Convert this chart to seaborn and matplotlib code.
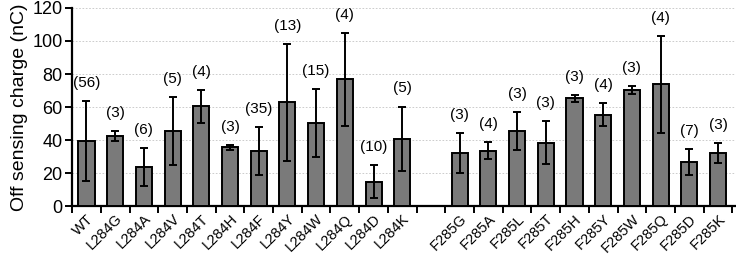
import numpy as np
import pandas as pd
import matplotlib
matplotlib.use("Agg")
import matplotlib.pyplot as plt
import seaborn as sns

# values
mutants = ["WT", "L284G", "L284A", "L284V", "L284T", "L284H", "L284F", "L284Y",
           "L284W", "L284Q", "L284D", "L284K",
           "F285G", "F285A", "F285L", "F285T", "F285H", "F285Y", "F285W",
           "F285Q", "F285D", "F285K"]
means = [39.5, 42.2, 23.5, 45.5, 60.5, 35.5, 33.2, 62.8, 50.2, 76.7, 14.8, 40.8,
         32.0, 33.6, 45.2, 38.3, 65.2, 55.3, 70.4, 73.8, 26.8, 32.3]
sds = [24.0, 3.0, 11.5, 20.5, 10.0, 1.3, 14.5, 35.4, 20.5, 28.0, 10.0, 19.5,
       12.0, 5.2, 11.5, 13.0, 2.3, 6.9, 2.2, 29.3, 7.9, 6.0]
n_cells = [56, 3, 6, 5, 4, 3, 35, 13, 15, 4, 10, 5,
           3, 4, 3, 3, 3, 4, 3, 4, 7, 3]

df = pd.DataFrame({"mutant": mutants, "charge": means, "sd": sds, "n": n_cells})
order = mutants[:12] + [" "] + mutants[12:]

sns.set_style("white")
plt.rcParams["font.family"] = ["Liberation Sans", "DejaVu Sans"]
plt.rcParams["text.color"] = "black"
plt.rcParams["axes.labelcolor"] = "black"
plt.rcParams["xtick.color"] = "black"
plt.rcParams["ytick.color"] = "black"

fig = plt.figure(figsize=(7.36, 2.57), dpi=100)
ax = fig.add_axes([0.098, 0.198, 0.901, 0.771])

sns.barplot(data=df, x="mutant", y="charge", order=order, errorbar=None,
            color="#7a7a7a", saturation=1, width=0.56,
            edgecolor="black", linewidth=1.4, ax=ax, zorder=3)

xpos = [order.index(m) for m in mutants]
ax.errorbar(xpos, means, yerr=sds, fmt="none", ecolor="black",
            elinewidth=1.4, capsize=3.2, capthick=1.4, zorder=4)

for x, m, s, n in zip(xpos, means, sds, n_cells):
    ax.annotate(f"({n})", (x, m + s), xytext=(0, 13), textcoords="offset points",
                ha="center", va="center", fontsize=11, annotation_clip=False)

ax.set_ylim(0, 120)
ax.set_xlim(-0.5, 22.6)
ax.set_yticks(range(0, 121, 20))
ax.yaxis.grid(True, color="#c4c4c4", linestyle=(0, (2, 2)), linewidth=0.6)
ax.set_axisbelow(True)

ax.set_xticks(range(len(order)))
ax.set_xticklabels(order, rotation=45, ha="right", rotation_mode="anchor",
                   fontsize=10.5)
ax.tick_params(axis="x", which="major", length=0, pad=4)
ax.set_xticks(np.arange(-0.5, 23, 1), minor=True)
ax.tick_params(axis="x", which="minor", length=5, width=1.4, direction="out",
               bottom=True)
ax.tick_params(axis="y", length=5, width=1.4, direction="out", left=True,
               labelsize=13, pad=2)

ax.set_xlabel("")
ax.set_ylabel("Off sensing charge (nC)", fontsize=14, labelpad=3)

for side in ["top", "right"]:
    ax.spines[side].set_visible(False)
for side in ["left", "bottom"]:
    ax.spines[side].set_linewidth(1.6)
    ax.spines[side].set_color("black")

fig.savefig("out.png", dpi=100)
